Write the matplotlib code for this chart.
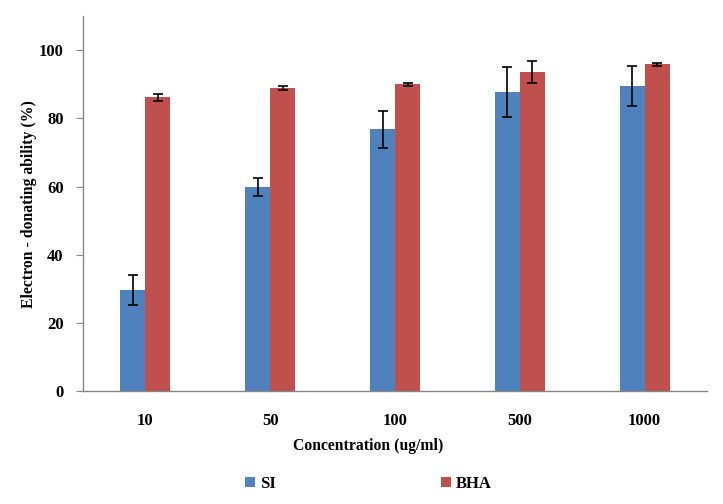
import matplotlib
matplotlib.use("Agg")
import matplotlib.pyplot as plt
import numpy as np

# === Data ===
concentrations = ['10', '50', '100', '500', '1000']
si_values = [29.6, 59.9, 76.8, 87.8, 89.5]
si_errors = [4.5, 2.7, 5.5, 7.4, 6.0]
bha_values = [86.2, 88.9, 90.0, 93.5, 95.9]
bha_errors = [1.0, 0.6, 0.5, 3.2, 0.4]

plt.rcParams['font.family'] = ['Liberation Serif', 'DejaVu Serif']
plt.rcParams['font.weight'] = 'bold'

fig = plt.figure(figsize=(7.23, 5.04), dpi=100)
ax = fig.add_axes([0.1148, 0.2242, 0.8632, 0.7438])

x = np.arange(len(concentrations))
w = 0.2
err_kw = dict(ecolor='black', elinewidth=1.2, capsize=3.5, capthick=1.2)
ax.bar(x - w / 2, si_values, w, yerr=si_errors, color='#4F81BD', label='SI', error_kw=err_kw)
ax.bar(x + w / 2, bha_values, w, yerr=bha_errors, color='#C0504D', label='BHA', error_kw=err_kw)

ax.set_xlim(-0.5, len(concentrations) - 0.5)
ax.set_ylim(0, 110)
ax.set_yticks([0, 20, 40, 60, 80, 100])
ax.set_xticks(x)
ax.set_xticklabels(concentrations)

for side in ['top', 'right']:
    ax.spines[side].set_visible(False)
for side in ['left', 'bottom']:
    ax.spines[side].set_color('#868686')
    ax.spines[side].set_linewidth(1.0)

ax.tick_params(axis='y', length=5, color='#868686', labelsize=12, pad=9)
ax.tick_params(axis='x', length=0, labelsize=12, pad=16)

ax.set_xlabel('Concentration (ug/ml)', fontsize=11.3, fontweight='bold')
ax.xaxis.set_label_coords(0.457, -0.125)
ax.set_ylabel('Electron - donating ability (%)', fontsize=11.3, fontweight='bold')
ax.yaxis.set_label_coords(-0.074, 0.5)

fig.legend(loc='lower center', bbox_to_anchor=(0.51, -0.006), ncol=2, frameon=False,
           handlelength=0.6, handleheight=0.6, handletextpad=0.3,
           columnspacing=9.9, prop={'weight': 'bold', 'size': 12})

fig.savefig('out.png', dpi=100)
